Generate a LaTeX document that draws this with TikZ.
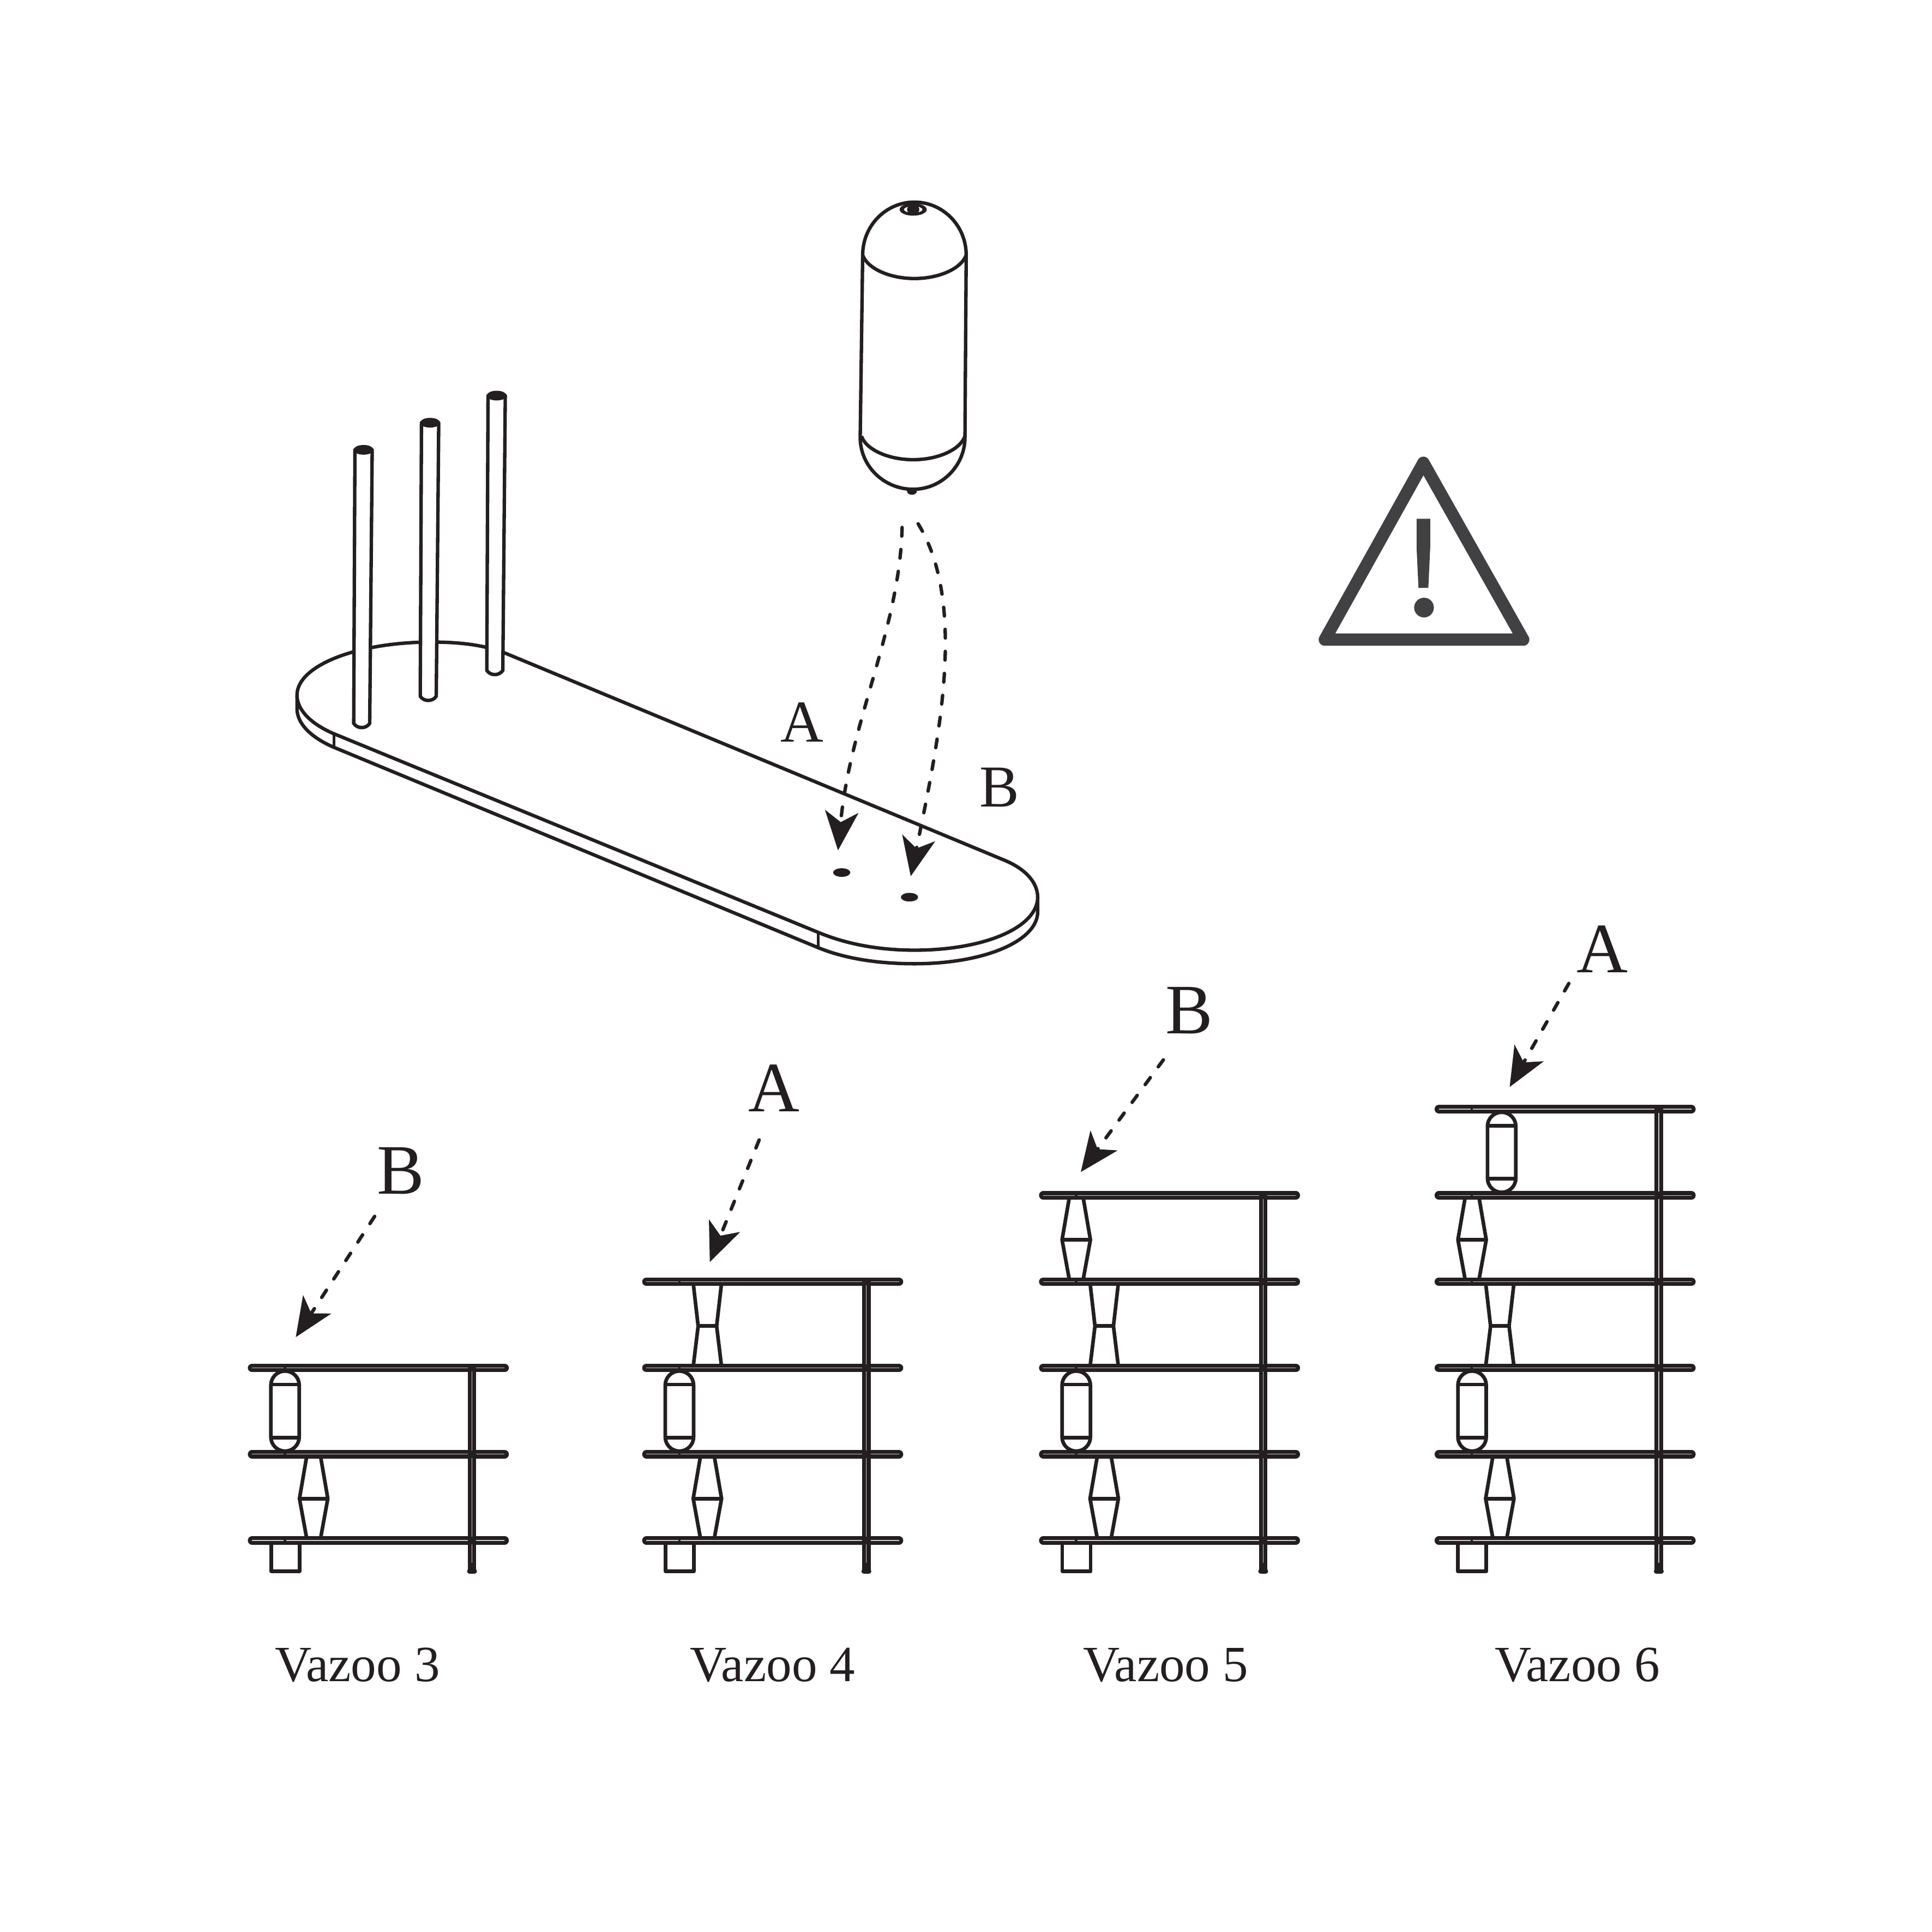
\documentclass[tikz,border=0pt]{standalone}
\usepackage{fontspec}
\setmainfont{Liberation Serif}
\usetikzlibrary{arrows.meta}
\definecolor{ink}{HTML}{231F20}
\definecolor{warn}{HTML}{414042}
\tikzset{
  line/.style={draw=ink,line width=1.8pt,line join=round},
  thinpart/.style={draw=ink,line width=1.9pt,line join=round,fill=white},
  shelfbar/.style={draw=ink,line width=4.4pt,line cap=round},
  barcore/.style={draw=white!80!black,line width=0.35pt},
  dasharrow/.style={draw=ink,line width=1.8pt,line cap=round,dash pattern=on 4.5pt off 7pt,
     -{Stealth[length=0.72cm,width=0.62cm,inset=0.2cm,line width=0pt,color=ink]}},
  biglabel/.style={text=ink,font=\fontsize{37}{37}\selectfont,inner sep=0pt},
  midlabel/.style={text=ink,font=\fontsize{31}{31}\selectfont,inner sep=0pt},
  namelabel/.style={text=ink,font=\fontsize{26.5}{26.5}\selectfont,inner sep=0pt},
}
\newcommand\vzcapsule[2]{%
  \draw[thinpart] (#1-11.5,#2+14) arc[start angle=180,end angle=0,x radius=11.5,y radius=-11.5]
     -- (#1+11.5,#2+56) arc[start angle=0,end angle=-180,x radius=11.5,y radius=-11.5] -- cycle;
  \draw[thinpart] (#1-11.5,#2+13.5) -- (#1+11.5,#2+13.5);
  \draw[thinpart] (#1-11.5,#2+56.5) -- (#1+11.5,#2+56.5);
}
\newcommand\vzdiamond[2]{%
  \draw[thinpart] (#1-5.5,#2+1) -- (#1-11.5,#2+36) -- (#1-5.5,#2+69) -- (#1+5.5,#2+69) -- (#1+11.5,#2+36) -- (#1+5.5,#2+1) -- cycle;
  \draw[thinpart] (#1-11.5,#2+36) -- (#1+11.5,#2+36);
}
\newcommand\vzhourglass[2]{%
  \draw[thinpart] (#1-11.5,#2+1) -- (#1-7.5,#2+36) -- (#1-11.5,#2+69) -- (#1+11.5,#2+69) -- (#1+7.5,#2+36) -- (#1+11.5,#2+1) -- cycle;
  \draw[thinpart] (#1-7.5,#2+36) -- (#1+7.5,#2+36);
}
% #1 x offset, #2 top shelf y
\newcommand\vzunit[2]{%
  \draw[thinpart] (#1+220,1252) -- (#1+220,1275) -- (#1+243,1275) -- (#1+243,1252);
  \foreach \sy in {1250,1180,...,#2}{
    \draw[shelfbar] (#1+204.5,\sy) -- (#1+409.5,\sy);
    \draw[barcore] (#1+204.5,\sy) -- (#1+409.5,\sy);
    \fill[ink] (#1+230.3,\sy-3) rectangle (#1+232.3,\sy+3);
  }
  \draw[shelfbar,line cap=butt] (#1+383,#2-2) -- (#1+383,1274);
  \draw[barcore] (#1+383,#2+3) -- (#1+383,1268);
  \foreach \sy in {1250,1180,...,#2}{\fill[ink] (#1+380,\sy-3) rectangle (#1+386,\sy+3);}
  \draw[ink,line width=2.6pt,line cap=round] (#1+381,1275) -- (#1+385,1275);
}
\begin{document}
\begin{tikzpicture}[x=0.0226cm,y=-0.0226cm]
\useasboundingbox (0,0) rectangle (1567.7,1567.7);
\fill[white] (0,0) rectangle (1567.7,1567.7);

% board
\draw[line] (241,564) -- (241,575) .. controls (241,587) and (252,598) .. (270,606) -- (664,769)
   .. controls (686,778) and (713,782) .. (742,782) .. controls (800,782) and (842,763) .. (842,740) -- (842,728);
\draw[line,fill=white] (241,564) .. controls (241,540) and (290,521) .. (350,521)
   .. controls (372,521) and (392,523) .. (410,530) -- (815,698)
   .. controls (832,705) and (842,716) .. (842,728) .. controls (842,752) and (800,771) .. (742,771)
   .. controls (713,771) and (687,766) .. (665,757) -- (270,595)
   .. controls (252,587) and (241,576) .. (241,564) -- cycle;
\draw[line,line width=1.5pt] (271,595.5) -- (271,606);
\draw[line,line width=1.5pt] (664,757) -- (664,769);
\fill[ink] (683,708) ellipse[x radius=7,y radius=3.5];
\fill[ink] (738,728) ellipse[x radius=7,y radius=3.5];

% pegs
\foreach \tl/\tr/\ty/\bl/\br/\by in {288/302/365/287/300/587, 342/356/343/341/354/565, 396/410/321/395/408/544}{
  \draw[line,line width=1.8pt,fill=white] (\tl,\ty) -- (\bl,\by) .. controls (\bl+3,\by+4.5) and (\br-3,\by+4.5) .. (\br,\by) -- (\tr,\ty) -- cycle;
  \draw[line,line width=1.2pt,fill=ink] ({(\tl+\tr)/2},\ty) ellipse[x radius=7,y radius=3];
}

% capsule
\draw[line,fill=white] (700,207) .. controls (700,183) and (719,164) .. (742,164)
   .. controls (765,164) and (784,183) .. (784,207) -- (783,355)
   .. controls (783,378) and (764,397) .. (741,397)
   .. controls (717,397) and (698,378) .. (698,355) -- cycle;
\draw[line] (700,207) .. controls (704,218) and (722,226) .. (742,226) .. controls (762,226) and (780,218) .. (784,207);
\draw[line] (699,354) .. controls (703,365) and (721,373) .. (741,373) .. controls (761,373) and (779,365) .. (783,354);
\fill[ink] (741,170) ellipse[x radius=11,y radius=5];
\fill[white] (741,170) ellipse[x radius=7.5,y radius=2.6];
\fill[ink] (741,170) ellipse[x radius=5,y radius=4];
\fill[ink] (740,398.5) ellipse[x radius=4,y radius=3];

% dashed arrows onto the board
\coordinate (aS) at (732,428); \coordinate (aE) at (680,690);
\coordinate (bS) at (745,425); \coordinate (bE) at (739,711);
\draw[dasharrow] (aS) .. controls (730,510) and (690,585) .. (aE);
\draw[dasharrow] (bS) .. controls (785,490) and (762,600) .. (bE);
\node[midlabel] (la) at (651,586) {A};
\node[midlabel] (lb) at (811,639) {B};

% warning
\draw[warn,line width=6.4pt,line join=round] (1155,375.5) -- (1075,519) -- (1236,519) -- cycle;
\fill[warn] (1149.5,421) -- (1160.5,421) -- (1160.5,445) -- (1159,477) -- (1151,477) -- (1149.5,445) -- cycle;
\fill[warn] (1155.5,493) circle[radius=8];

% shelving units
\vzcapsule{231.3}{1110}
\vzdiamond{254.5}{1180}
\vzunit{0}{1110}

\vzhourglass{574}{1040}
\vzcapsule{551.3}{1110}
\vzdiamond{574}{1180}
\vzunit{320}{1040}

\vzdiamond{873.3}{970}
\vzhourglass{896}{1040}
\vzcapsule{873.3}{1110}
\vzdiamond{896}{1180}
\vzunit{642}{970}

\vzcapsule{1218.5}{900}
\vzdiamond{1194.5}{970}
\vzhourglass{1217}{1040}
\vzcapsule{1194.5}{1110}
\vzdiamond{1217}{1180}
\vzunit{963}{900}

% pointers
\coordinate (p1S) at (304,987); \coordinate (p1E) at (240,1085);
\coordinate (p2S) at (616,925); \coordinate (p2E) at (576,1024);
\coordinate (p3S) at (944,860); \coordinate (p3E) at (877,951);
\coordinate (p4S) at (1273,798); \coordinate (p4E) at (1225,882);
\draw[dasharrow] (p1S) -- (p1E);
\draw[dasharrow] (p2S) -- (p2E);
\draw[dasharrow] (p3S) -- (p3E);
\draw[dasharrow] (p4S) -- (p4E);
\node[biglabel] (l1) at (325,950) {B};
\node[biglabel] (l2) at (628,883) {A};
\node[biglabel] (l3) at (965,820) {B};
\node[biglabel] (l4) at (1300,770) {A};

% names
\node[namelabel] (n3) at (290,1351) {Vazoo 3};
\node[namelabel] (n4) at (627,1351) {Vazoo 4};
\node[namelabel] (n5) at (946,1351) {Vazoo 5};
\node[namelabel] (n6) at (1280,1351) {Vazoo 6};
\end{tikzpicture}
\end{document}
